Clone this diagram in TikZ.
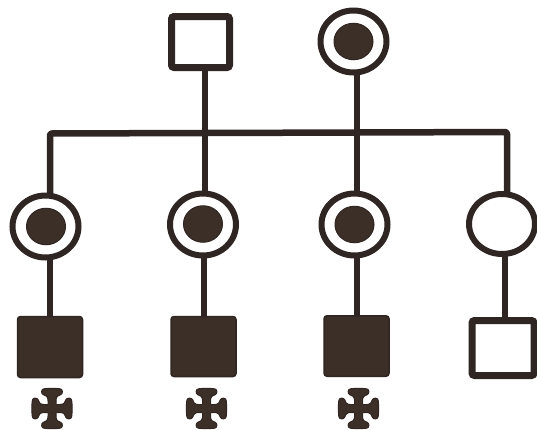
\documentclass[tikz,border=0pt]{standalone}
\usetikzlibrary{shapes.geometric,backgrounds}
\definecolor{ink}{HTML}{2F2522}
\definecolor{fillink}{HTML}{3C2F27}
\tikzset{
  x=1pt,y=-1pt,
  sq/.style={draw=ink,line width=7pt,rectangle,rounded corners=2.5pt,inner sep=0pt,fill=white},
  fsq/.style={draw=ink,line width=1.5pt,rectangle,rounded corners=3pt,inner sep=0pt,fill=fillink},
  circ/.style={draw=ink,line width=6pt,ellipse,inner sep=0pt,fill=white,minimum width=66pt,minimum height=62pt},
  dotb/.style={draw=ink,line width=1pt,ellipse,fill=fillink,minimum width=39pt,minimum height=36.5pt,inner sep=0pt},
  lin/.style={line width=6.5pt,draw=ink},
  crossb/.style={fill=fillink,draw=ink,line width=1pt,line join=round}
}
\newcommand{\pcross}[2]{%
  \begin{scope}[shift={(#1,#2)}]
   \foreach \a in {0,90,180,270}{
     \path[crossb,rotate=\a] (-4,0) -- (-4,-8) .. controls (-4,-12) and (-6,-13) .. (-9,-14)
       .. controls (-11,-15) and (-11,-19.5) .. (-8,-19.7) .. controls (-4,-20.3) and (4,-20.3) .. (8,-19.7)
       .. controls (11,-19.5) and (11,-15) .. (9,-14) .. controls (6,-13) and (4,-12) .. (4,-8) -- (4,0) -- cycle;
   }
   \fill[fillink] (-4.5,-4.5) rectangle (4.5,4.5);
  \end{scope}}
\begin{document}
\begin{tikzpicture}
\useasboundingbox (0,0) rectangle (537,429);
\coordinate (bl) at (50,133.5);
\coordinate (br) at (507,132);
\coordinate (j1) at (205,133);
\coordinate (j2) at (357,132.5);
\node[sq,minimum width=58pt,minimum height=51pt] (f) at (200.5,42) {};
\node[circ] (m) at (353.5,41.5) {};
\node[dotb] at (m) {};
\node[circ] (a) at (45.5,226.5) {};
\node[dotb] at (46,226.5) {};
\node[circ] (b) at (203,224.5) {};
\node[dotb] at (203,224) {};
\node[circ] (c) at (354.5,224.5) {};
\node[dotb] at (354.5,224.5) {};
\node[circ,minimum height=60pt] (d) at (502,224) {};
\node[fsq,minimum width=65pt,minimum height=61pt] (e) at (50,347) {};
\node[fsq,minimum width=65pt,minimum height=60pt] (g) at (203.5,346.5) {};
\node[fsq,minimum width=65pt,minimum height=60.5pt] (h) at (356.5,346) {};
\node[sq,minimum width=62pt,minimum height=55pt] (i) at (503,348) {};
\begin{scope}[on background layer]
\draw[lin,line cap=round,line join=round,rounded corners=2pt] (bl |- a) -- (bl) -- (j1) -- (j2) -- (br) -- (br |- d);
\draw[lin] (j1 |- f) -- (j1) -- (j1 |- b);
\draw[lin] (j2 |- m) -- (j2) -- (j2 |- c);
\draw[lin] (bl |- a) -- (bl |- e);
\draw[lin] (204,224) -- (204,346);
\draw[lin] (j2 |- c) -- (j2 |- h);
\draw[lin] (505,224) -- (505,348);
\end{scope}
\pcross{52}{408.5}
\pcross{206.5}{408.5}
\pcross{358.5}{408.5}
\end{tikzpicture}
\end{document}
